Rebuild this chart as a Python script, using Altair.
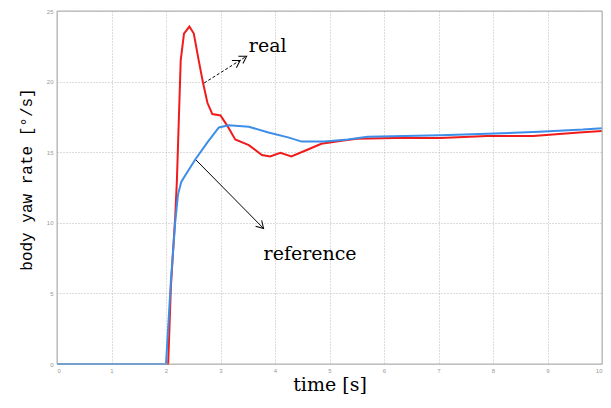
import altair as alt
import pandas as pd

# ---- data ----
real_t = [0, 2.04, 2.09, 2.17, 2.20, 2.27, 2.33, 2.43, 2.51, 2.60, 2.68, 2.76, 2.85, 3.00,
          3.12, 3.27, 3.52, 3.76, 3.91, 4.10, 4.30, 4.55, 4.85, 5.19, 5.50, 6.19, 7.03,
          7.89, 8.74, 9.58, 10.0]
real_v = [0, 0, 5.5, 10.5, 13.0, 21.5, 23.4, 23.9, 23.4, 21.5, 19.9, 18.5, 17.7, 17.6,
          16.9, 15.9, 15.5, 14.8, 14.7, 14.95, 14.7, 15.1, 15.6, 15.8, 15.95, 16.0, 16.0,
          16.15, 16.15, 16.4, 16.5]
ref_t = [0, 2.00, 2.09, 2.17, 2.22, 2.28, 2.36, 2.54, 2.76, 2.97, 3.15, 3.52, 3.88, 4.24,
         4.49, 4.91, 5.34, 5.70, 7.04, 7.89, 8.85, 9.65, 10.0]
ref_v = [0, 0, 5.9, 10.1, 12.0, 12.9, 13.4, 14.5, 15.7, 16.75, 16.9, 16.8, 16.4, 16.05,
         15.75, 15.75, 15.9, 16.1, 16.2, 16.3, 16.45, 16.6, 16.7]

series_names = ["real", "reference"]
series_colors = ["#f01c1c", "#3d8ee8"]
x_ticks = list(range(0, 11))
y_ticks = [0, 5, 10, 15, 20, 25]

# annotation: label, arrow start (t, v), arrow tip (t, v), text position, head angle
ann_label = ["real", "reference"]
ann_t0 = [2.70, 2.55]
ann_v0 = [19.9, 14.45]
ann_t1 = [3.48, 3.79]
ann_v1 = [21.8, 9.6]
ann_tx = [3.52, 3.79]
ann_ty = [22.1, 7.4]
ann_angle = [328, 46]
# second (inner) head of the double arrow on "real"
head2_t = [3.36]
head2_v = [21.5]
head2_angle = [328]

rows = []
for t, v in zip(real_t, real_v):
    rows.append({"t": t, "v": v, "series": "real"})
for t, v in zip(ref_t, ref_v):
    rows.append({"t": t, "v": v, "series": "reference"})
df = pd.DataFrame(rows)

ann = pd.DataFrame({"label": ann_label, "t0": ann_t0, "v0": ann_v0, "t1": ann_t1,
                    "v1": ann_v1, "tx": ann_tx, "ty": ann_ty, "angle": ann_angle})
heads_df = pd.DataFrame({"t": ann_t1 + head2_t, "v": ann_v1 + head2_v,
                         "angle": ann_angle + head2_angle})

xs = alt.Scale(domain=[0, 10], nice=False, zero=False)
ys = alt.Scale(domain=[0, 25], nice=False)

x_axis = alt.Axis(values=x_ticks, grid=True, gridDash=[1, 2], gridColor="#b8b8b8",
                  ticks=False, domain=False, labelFontSize=6, labelColor="#999999",
                  labelPadding=3, title="time [s]", titleFont="DejaVu Serif",
                  titleFontSize=19, titleFontWeight="normal", titleColor="#000000",
                  titleBaseline="alphabetic", titleY=26)
y_axis = alt.Axis(values=y_ticks, grid=True, gridDash=[1, 2], gridColor="#b8b8b8",
                  ticks=False, domain=False, labelFontSize=6, labelColor="#999999",
                  labelPadding=4, title="body yaw rate [°/s]", titleFont="Liberation Mono",
                  titleFontSize=16, titleFontWeight="normal", titleColor="#000000",
                  titleAngle=270, titleBaseline="middle", titleAlign="center",
                  titleX=-31, titleY=168)

lines = alt.Chart(df).mark_line(strokeWidth=2, interpolate="linear").encode(
    x=alt.X("t:Q", scale=xs, axis=x_axis),
    y=alt.Y("v:Q", scale=ys, axis=y_axis),
    color=alt.Color("series:N", scale=alt.Scale(domain=series_names, range=series_colors),
                    legend=None),
    order=alt.Order("t:Q"),
)

arrow_real = alt.Chart(ann[ann.label == "real"]).mark_rule(
    color="black", strokeWidth=1, strokeDash=[3, 2]).encode(
    x="t0:Q", y="v0:Q", x2="t1:Q", y2="v1:Q")
arrow_ref = alt.Chart(ann[ann.label == "reference"]).mark_rule(
    color="black", strokeWidth=1).encode(
    x="t0:Q", y="v0:Q", x2="t1:Q", y2="v1:Q")

heads = alt.Chart(heads_df).mark_point(
    shape="M -1 -0.6 L 0 0 L -1 0.6", filled=False, color="black", strokeWidth=1,
    size=200, opacity=1).encode(
    x="t:Q", y="v:Q", angle=alt.Angle("angle:Q", scale=None))

texts = alt.Chart(ann).mark_text(
    font="DejaVu Serif", fontSize=19, align="left", baseline="alphabetic",
    color="black").encode(
    x="tx:Q", y="ty:Q", text="label:N")

frame = alt.Chart(pd.DataFrame({"a": [0]})).mark_rect(
    fill=None, stroke="#b0b0b0", strokeWidth=1).encode(
    x=alt.value(0), x2=alt.value(545), y=alt.value(0), y2=alt.value(353))

chart = alt.layer(lines, arrow_real, arrow_ref, heads, texts, frame).properties(
    width=545, height=353, autosize="none",
    padding={"left": 49, "top": 3, "right": 1, "bottom": 31},
).configure_view(stroke=None).configure(background="white")

chart.save("out.html", embed_options={"renderer": "svg", "actions": False})
